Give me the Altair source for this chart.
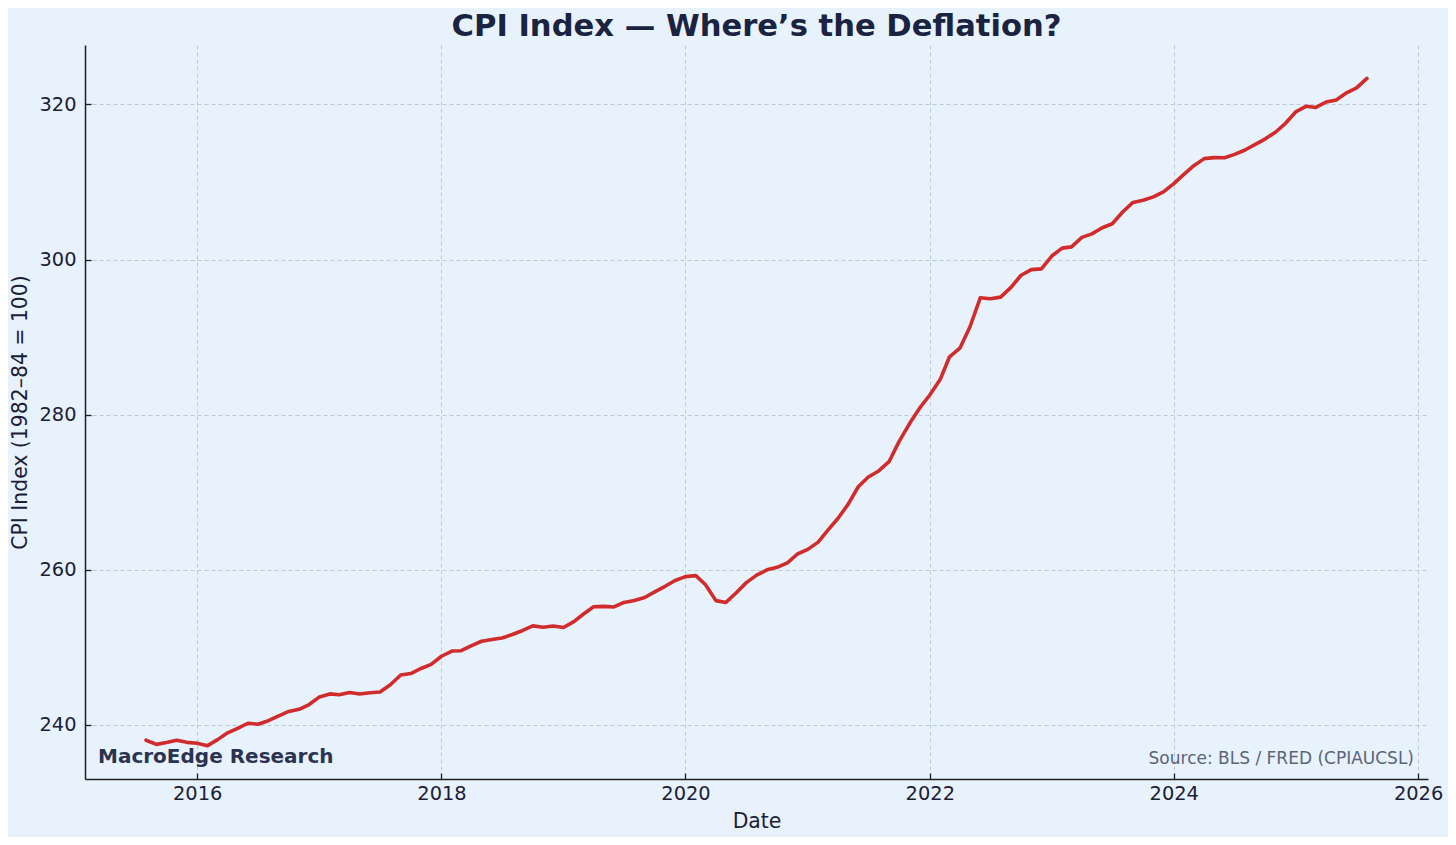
import altair as alt
import pandas as pd

# ---- data (CPIAUCSL, monthly, Aug 2015 – Aug 2025) ----
dates = pd.date_range("2015-08-01", periods=121, freq="MS").strftime("%Y-%m-%d").tolist()
cpi = [
    238.033, 237.498, 237.733, 238.017, 237.761,
    237.652, 237.336, 238.080, 238.992, 239.557, 240.222, 240.101, 240.545, 241.176, 241.741, 242.026, 242.637,
    243.618, 244.006, 243.892, 244.193, 244.004, 244.163, 244.243, 245.183, 246.435, 246.626, 247.284, 247.805,
    248.859, 249.529, 249.577, 250.227, 250.792, 251.018, 251.214, 251.663, 252.182, 252.772, 252.594, 252.767,
    252.561, 253.319, 254.277, 255.233, 255.296, 255.213, 255.802, 256.036, 256.430, 257.155, 257.879, 258.630,
    259.127, 259.250, 258.076, 256.032, 255.802, 257.042, 258.352, 259.316, 259.997, 260.319, 260.911, 262.045,
    262.639, 263.573, 265.065, 266.625, 268.404, 270.710, 271.965, 272.752, 273.942, 276.528, 278.824, 280.806,
    282.542, 284.525, 287.467, 288.582, 291.311, 295.072, 294.940, 295.162, 296.421, 297.979, 298.708, 298.808,
    300.456, 301.476, 301.643, 302.858, 303.316, 304.099, 304.615, 306.138, 307.374, 307.653, 308.087, 308.735,
    309.794, 311.022, 312.107, 313.016, 313.140, 313.131, 313.566, 314.131, 314.851, 315.564, 316.449, 317.603,
    319.086, 319.775, 319.615, 320.321, 320.580, 321.500, 322.132, 323.364,
]
x_tick_years = [2016, 2018, 2020, 2022, 2024, 2026]
y_ticks = [240, 260, 280, 300, 320]

title_text = "CPI Index — Where’s the Deflation?"
x_title = "Date"
y_title = "CPI Index (1982–84 = 100)"
brand_text = "MacroEdge Research"
source_text = "Source: BLS / FRED (CPIAUCSL)"

# ---- style ----
BG = "#E8F2FD"
LINE = "#D22B2B"
INK = "#1B2036"
FONT = "DejaVu Sans"
W, H = 1343, 734

df = pd.DataFrame({"date": dates, "cpi": cpi})

# matplotlib-style 5% margins
ts = pd.to_datetime(df["date"])
span = ts.max() - ts.min()
x_lo = int((ts.min() - span * 0.05).value // 10**6)
x_hi = int((ts.max() + span * 0.05).value // 10**6)
c_min, c_max = min(cpi), max(cpi)
y_lo = c_min - 0.05 * (c_max - c_min)
y_hi = c_max + 0.05 * (c_max - c_min)

x_scale = alt.Scale(type="utc", domain=[x_lo, x_hi], nice=False)
y_scale = alt.Scale(domain=[y_lo, y_hi], nice=False, zero=False)

x_axis = alt.Axis(
    title=x_title,
    values=[alt.DateTime(year=y, month=1, date=1, utc=True) for y in x_tick_years],
    format="%Y",
    labelPadding=11,
    titlePadding=9,
)
y_axis = alt.Axis(title=y_title, values=y_ticks, labelPadding=15, titlePadding=8)

line = alt.Chart(df).mark_line(color=LINE, strokeWidth=3.6, strokeJoin="round", strokeCap="round").encode(
    x=alt.X("date:T", scale=x_scale, axis=x_axis),
    y=alt.Y("cpi:Q", scale=y_scale, axis=y_axis),
)

brand = alt.Chart(pd.DataFrame({"t": [brand_text]})).mark_text(
    align="left", baseline="alphabetic", font=FONT, fontSize=20, fontWeight="bold", color="#2A3350"
).encode(text="t:N", x=alt.value(13), y=alt.value(H - 16))

source = alt.Chart(pd.DataFrame({"t": [source_text]})).mark_text(
    align="right", baseline="alphabetic", font=FONT, fontSize=17, color="#5B6478"
).encode(text="t:N", x=alt.value(W - 14), y=alt.value(H - 15))

chart = (
    alt.layer(line, brand, source)
    .properties(
        width=W,
        height=H,
        title=alt.Title(
            title_text, font=FONT, fontSize=30.6, fontWeight="bold", color="#1A2340",
            anchor="middle", frame="group", offset=2,
        ),
        autosize=alt.AutoSizeParams(type="none"),
        padding={"left": 77, "top": 37, "right": 20, "bottom": 58},
    )
    .configure(background=BG, font=FONT)
    .configure_view(strokeWidth=0, fill=BG)
    .configure_axis(
        grid=True,
        gridDash=[4, 3],
        gridColor="#B3BECE",
        gridWidth=0.8,
        domainColor="#1e1e1e",
        domainWidth=1.5,
        tickColor="#1e1e1e",
        tickWidth=1.3,
        tickSize=alt.ExprRef(expr="-6"),
        labelFont=FONT,
        labelFontSize=19.4,
        labelColor=INK,
        titleFont=FONT,
        titleFontSize=20.4,
        titleFontWeight="normal",
        titleColor=INK,
    )
)

chart.save("out.html", embed_options={"renderer": "svg", "actions": False})
